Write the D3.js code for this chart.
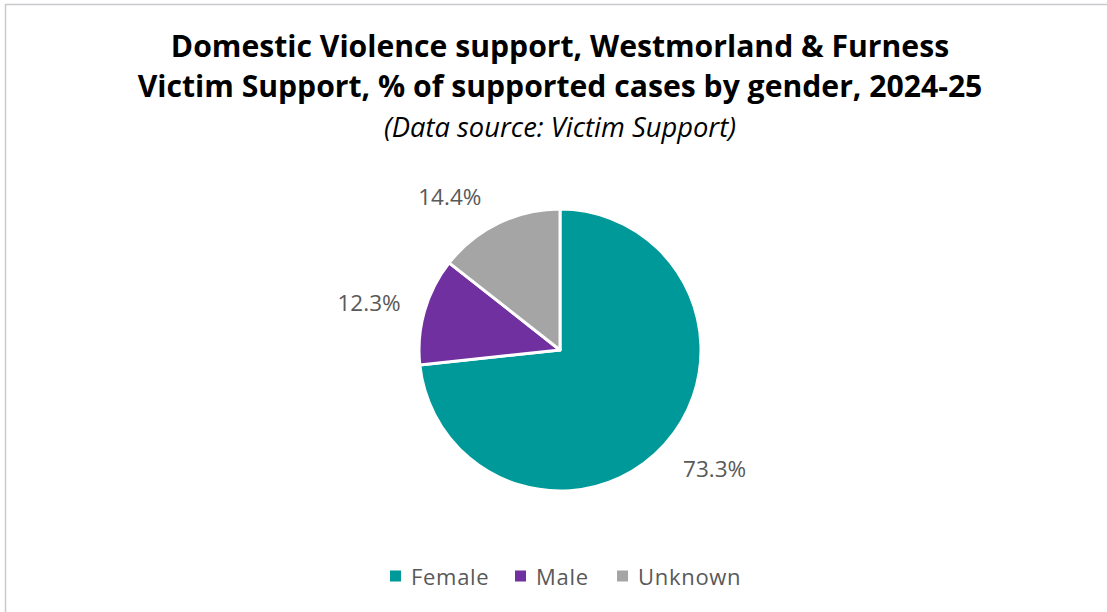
<!DOCTYPE html>
<html><head><meta charset="utf-8">
<script src="https://cdn.jsdelivr.net/npm/d3@7"></script>
<style>body{margin:0;background:#fff}svg{display:block}</style>
</head><body>
<svg id="c" width="1107" height="612"></svg>
<script>
const categories = ["Female", "Male", "Unknown"];
const values = [73.3, 12.3, 14.4];
const labels = ["73.3%", "12.3%", "14.4%"];
const colors = ["#009999", "#7030A0", "#A5A5A5"];
const titleLines = ["Domestic Violence support, Westmorland & Furness", "Victim Support, % of supported cases by gender, 2024-25"];
const subtitle = "(Data source: Victim Support)";

const svg = d3.select("#c");
svg.append("rect").attr("x",5.5).attr("y",4.5).attr("width",1120).attr("height",620)
  .attr("fill","#fff").attr("stroke","#c9c9cf").attr("stroke-width",1.5);

const font = "'Open Sans', Lato, sans-serif";
function fit(sel, target){ const w = sel.node().getComputedTextLength(); const fs = +sel.attr("font-size"); sel.attr("font-size", fs*target/w); }

const t = svg.selectAll("text.title").data(titleLines).join("text").attr("class","title")
  .attr("x",560).attr("y",(d,i)=>57+i*40).attr("text-anchor","middle")
  .attr("font-family",font).attr("font-weight","bold").attr("font-size",26).attr("fill","#000").text(d=>d);
const t2 = t.filter((d,i)=>i===1); const w2 = t2.node().getComputedTextLength();
t.attr("font-size", 26*845/w2);
const sub = svg.append("text").attr("x",560).attr("y",137).attr("text-anchor","middle")
  .attr("font-family",font).attr("font-style","italic").attr("font-size",20).attr("fill","#000").text(subtitle);
fit(sub, 352);

const cx=560, cy=350, r=141;
const pie = d3.pie().sort(null).value(d=>d.v);
const data = pie(categories.map((c,i)=>({c, v:values[i], l:labels[i], col:colors[i]})));
const arc = d3.arc().innerRadius(0).outerRadius(r);
const g = svg.append("g").attr("transform",`translate(${cx},${cy})`);
g.selectAll("path").data(data).join("path").attr("d",arc)
  .attr("fill",d=>d.data.col).attr("stroke","#fff").attr("stroke-width",3).attr("stroke-linejoin","round");

const lblArc = d3.arc().innerRadius(r*1.35).outerRadius(r*1.35);
const nudges = [[13,-9],[-8,5],[-27,18]];
g.selectAll("text.lbl").data(data).join("text").attr("class","lbl")
  .attr("transform",(d,i)=>{const p=lblArc.centroid(d);return `translate(${p[0]+nudges[i][0]},${p[1]+nudges[i][1]})`;})
  .attr("text-anchor","middle").attr("dominant-baseline","central")
  .attr("font-family",font).attr("font-size",22.5).attr("fill","#595959").text(d=>d.data.l);

// legend
const leg = svg.append("g").attr("transform","translate(0,576)");
const legX = [390, 515, 617];
const items = leg.selectAll("g").data(categories).join("g").attr("transform",(d,i)=>`translate(${legX[i]},0)`);
items.append("rect").attr("x",0).attr("y",-5.5).attr("width",11).attr("height",11).attr("fill",(d,i)=>colors[i]);
items.append("text").attr("x",21).attr("y",0).attr("dominant-baseline","central")
  .attr("font-family",font).attr("font-size",22).attr("letter-spacing",0.7).attr("fill","#595959").text(d=>d);
</script>
</body></html>
